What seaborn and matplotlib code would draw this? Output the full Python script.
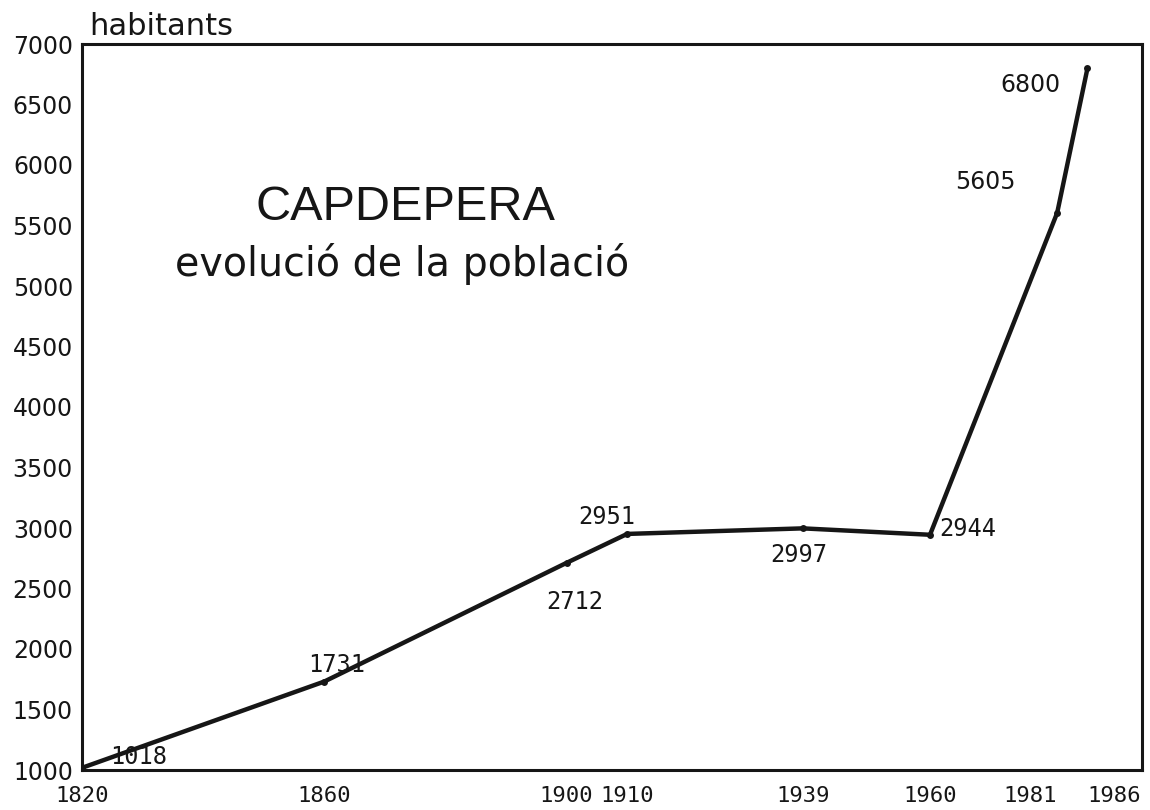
import matplotlib
matplotlib.use("Agg")
import matplotlib.pyplot as plt
import seaborn as sns
import pandas as pd

years = [1820, 1860, 1900, 1910, 1939, 1960, 1981, 1986]
population = [1018, 1731, 2712, 2951, 2997, 2944, 5605, 6800]
year_labels = ["1820", "1860", "1900", "1910", "1939", "1960", "1981", "1986"]
y_ticks = [1000, 1500, 2000, 2500, 3000, 3500, 4000, 4500, 5000, 5500, 6000, 6500, 7000]
y_tick_labels = [str(v) for v in y_ticks]
title = "CAPDEPERA"
subtitle = "evolució de la població"
y_label = "habitants"

# annotation offsets (points) and fonts
ann_offsets = [(41, 8), (9, 12), (6, -28), (-15, 12), (-3, -19), (27, 4), (-52, 22), (-41, -12)]
ann_mono = [True, True, True, True, True, True, False, False]

sns.set_theme(style="white")
plt.rcParams['font.family'] = ['DejaVu Sans']
INK = "#161616"

df = pd.DataFrame({"year": years, "pop": population})

fig = plt.figure(figsize=(11.5, 8.1), dpi=100)
ax = fig.add_axes([82/1150, 1-770/810, (1142-82)/1150, (770-44)/810])

sns.lineplot(data=df, x="year", y="pop", ax=ax, color=INK, linewidth=3.2,
             marker="o", markersize=5, markeredgewidth=0, markerfacecolor=INK)

ax.set_xlim(1820, 1995)
ax.set_ylim(1000, 7000)
ax.set_xlabel("")
ax.set_ylabel("")

ax.set_xticks(years)
ax.set_xticklabels(year_labels, family="DejaVu Sans Mono", fontsize=16, color=INK)
ax.set_yticks(y_ticks)
ax.set_yticklabels(y_tick_labels, family="DejaVu Sans", fontsize=17, color=INK)
for lab in ax.get_xticklabels():
    t = lab.get_text()
    if t == "1981":
        lab.set_horizontalalignment("right")
    elif t == "1986":
        lab.set_horizontalalignment("left")

ax.tick_params(axis="both", direction="inout", length=7, width=2, color=INK)
ax.tick_params(axis="x", pad=8)
ax.tick_params(axis="y", pad=3)

for s in ax.spines.values():
    s.set_visible(True)
    s.set_color(INK)
    s.set_linewidth(2.2)

for x, y, off, mono in zip(years, population, ann_offsets, ann_mono):
    ax.annotate(str(y), (x, y), xytext=off, textcoords="offset points",
                ha="center", va="center", color=INK,
                family="DejaVu Sans Mono" if mono else "DejaVu Sans",
                fontsize=17)

ax.text(0.305, 0.775, title, transform=ax.transAxes, ha="center", va="center",
        family="Liberation Sans", fontsize=35, color=INK)
ax.text(0.302, 0.697, subtitle, transform=ax.transAxes, ha="center", va="center",
        family="DejaVu Sans", fontsize=28.5, color=INK)
ax.text(0.007, 1.004, y_label, transform=ax.transAxes, ha="left", va="bottom",
        family="DejaVu Sans", fontsize=22, color=INK)

fig.savefig("out.png", dpi=100, facecolor="white")
